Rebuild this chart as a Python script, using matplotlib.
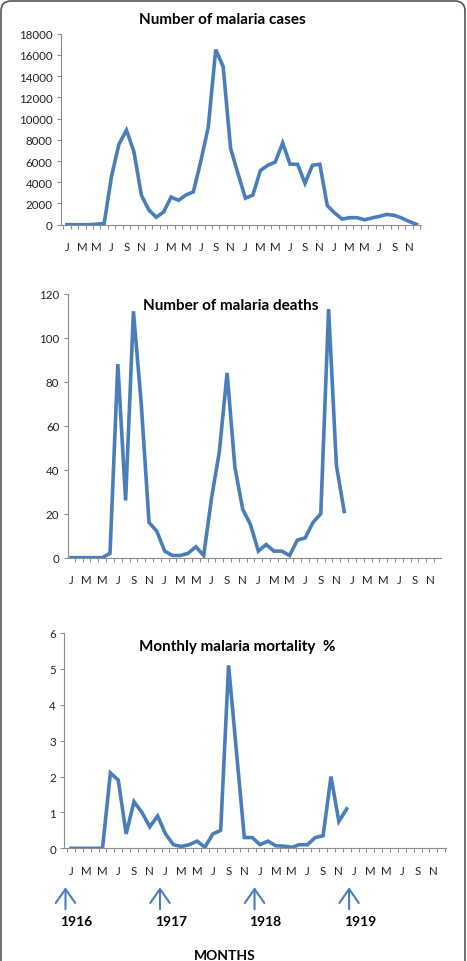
import matplotlib
matplotlib.use('Agg')
import matplotlib.pyplot as plt
import matplotlib.ticker as ticker
from matplotlib.patches import FancyBboxPatch

# ── data ──────────────────────────────────────────────────────────────────────
MONTH_LABELS = ['J', 'M', 'M', 'J', 'S', 'N'] * 4          # every other month, 1916-1919
N_MONTHS = 48

CASES = [0, 0, 0, 0, 50, 100, 4600, 7600, 8900, 6900, 2800, 1400,
         700, 1200, 2600, 2300, 2800, 3100, 6000, 9200, 16500, 14900, 7200, 4800,
         2500, 2800, 5100, 5600, 5900, 7700, 5700, 5700, 3900, 5600, 5700, 1800,
         1100, 530, 660, 660, 470, 630, 790, 970, 880, 630, 310, 30]

DEATHS = [0, 0, 0, 0, 0, 2, 88, 26, 112, 70, 16, 12,
          3, 1, 1, 2, 5, 1, 27, 48, 84, 41, 22, 15,
          3, 6, 3, 3, 1, 8, 9, 16, 20, 113, 42, 21]

MORTALITY = [0, 0, 0, 0, 0, 2.1, 1.9, 0.4, 1.3, 1.0, 0.6, 0.9,
             0.4, 0.1, 0.05, 0.1, 0.2, 0.03, 0.4, 0.5, 5.1, 2.7, 0.3, 0.3,
             0.1, 0.2, 0.07, 0.06, 0.03, 0.1, 0.1, 0.3, 0.35, 2.0, 0.75, 1.1]

YEARS = ['1916', '1917', '1918', '1919']
YEAR_START = [0, 12, 24, 36]

# ── style ─────────────────────────────────────────────────────────────────────
LINE_COLOR = '#4A7EBB'
AXIS_COLOR = '#8C8C8C'
plt.rcParams['font.family'] = ['Lato', 'DejaVu Sans']

W, H = 467, 962
fig = plt.figure(figsize=(W / 100, H / 100), dpi=100)


def px_axes(left, right, bottom, top):
    """add axes from pixel edges (origin top-left)"""
    return fig.add_axes([left / W, (H - bottom) / H, (right - left) / W, (bottom - top) / H])


def style(ax, values, ylim, ystep, xlim, title, tx, ty):
    ax.plot(range(len(values)), values, color=LINE_COLOR, lw=2.6, solid_joinstyle='miter')
    ax.set_xlim(*xlim)
    ax.set_ylim(*ylim)
    ax.yaxis.set_major_locator(ticker.MultipleLocator(ystep))
    ax.set_xticks(range(0, N_MONTHS, 2))
    ax.set_xticklabels(MONTH_LABELS)
    ax.xaxis.set_minor_locator(ticker.FixedLocator([i - 0.5 for i in range(N_MONTHS + 1)]))
    for s in ('top', 'right'):
        ax.spines[s].set_visible(False)
    for s in ('left', 'bottom'):
        ax.spines[s].set_color(AXIS_COLOR)
        ax.spines[s].set_linewidth(0.8)
    ax.tick_params(axis='x', which='major', length=0, pad=12, labelsize=8.3, colors='#222222')
    ax.tick_params(axis='x', which='minor', length=3, color=AXIS_COLOR, width=0.7)
    ax.tick_params(axis='y', length=3, pad=3, labelsize=8.3, color=AXIS_COLOR,
                   labelcolor='#222222', width=0.8)
    ax.text(tx, ty, title, transform=ax.transAxes, ha='center', va='center',
            fontsize=11, fontweight='bold')


ax1 = px_axes(61, 421, 225.7, 34.7)
style(ax1, CASES, (0, 18000), 2000, (-0.8, 47.6), 'Number of malaria cases', 0.447, 1.077)

ax2 = px_axes(67.7, 441, 558.7, 294.7)
style(ax2, DEATHS, (0, 120), 20, (-0.42, 47.4), 'Number of malaria deaths', 0.437, 0.958)

ax3 = px_axes(64.3, 446, 849.3, 634)
style(ax3, MORTALITY, (0, 6), 1, (-0.85, 47.6), 'Monthly malaria mortality  %', 0.452, 0.941)

# year arrows under the bottom panel
tr = ax3.get_xaxis_transform()
for year, idx in zip(YEARS, YEAR_START):
    ax3.annotate('', xy=(idx - 0.7, -0.168), xytext=(idx - 0.7, -0.296),
                 xycoords=tr, textcoords=tr, annotation_clip=False,
                 arrowprops=dict(arrowstyle='->,head_width=0.7,head_length=1.0',
                                 color=LINE_COLOR, lw=1.5))
    ax3.text(idx + 0.7, -0.336, year, transform=tr, ha='center', va='center',
             fontsize=10, fontweight='bold')

fig.text(225 / W, 1 - 956 / H, 'MONTHS', ha='center', va='center',
         fontsize=10, fontweight='bold')

# rounded frame round the whole panel
frame = FancyBboxPatch((0.01, -0.5), 4.64, 10.1, boxstyle='round,pad=0,rounding_size=0.1',
                       transform=fig.dpi_scale_trans, fill=False, edgecolor='#555555', lw=1.2)
fig.patches.append(frame)

fig.savefig('out.png', dpi=100)
